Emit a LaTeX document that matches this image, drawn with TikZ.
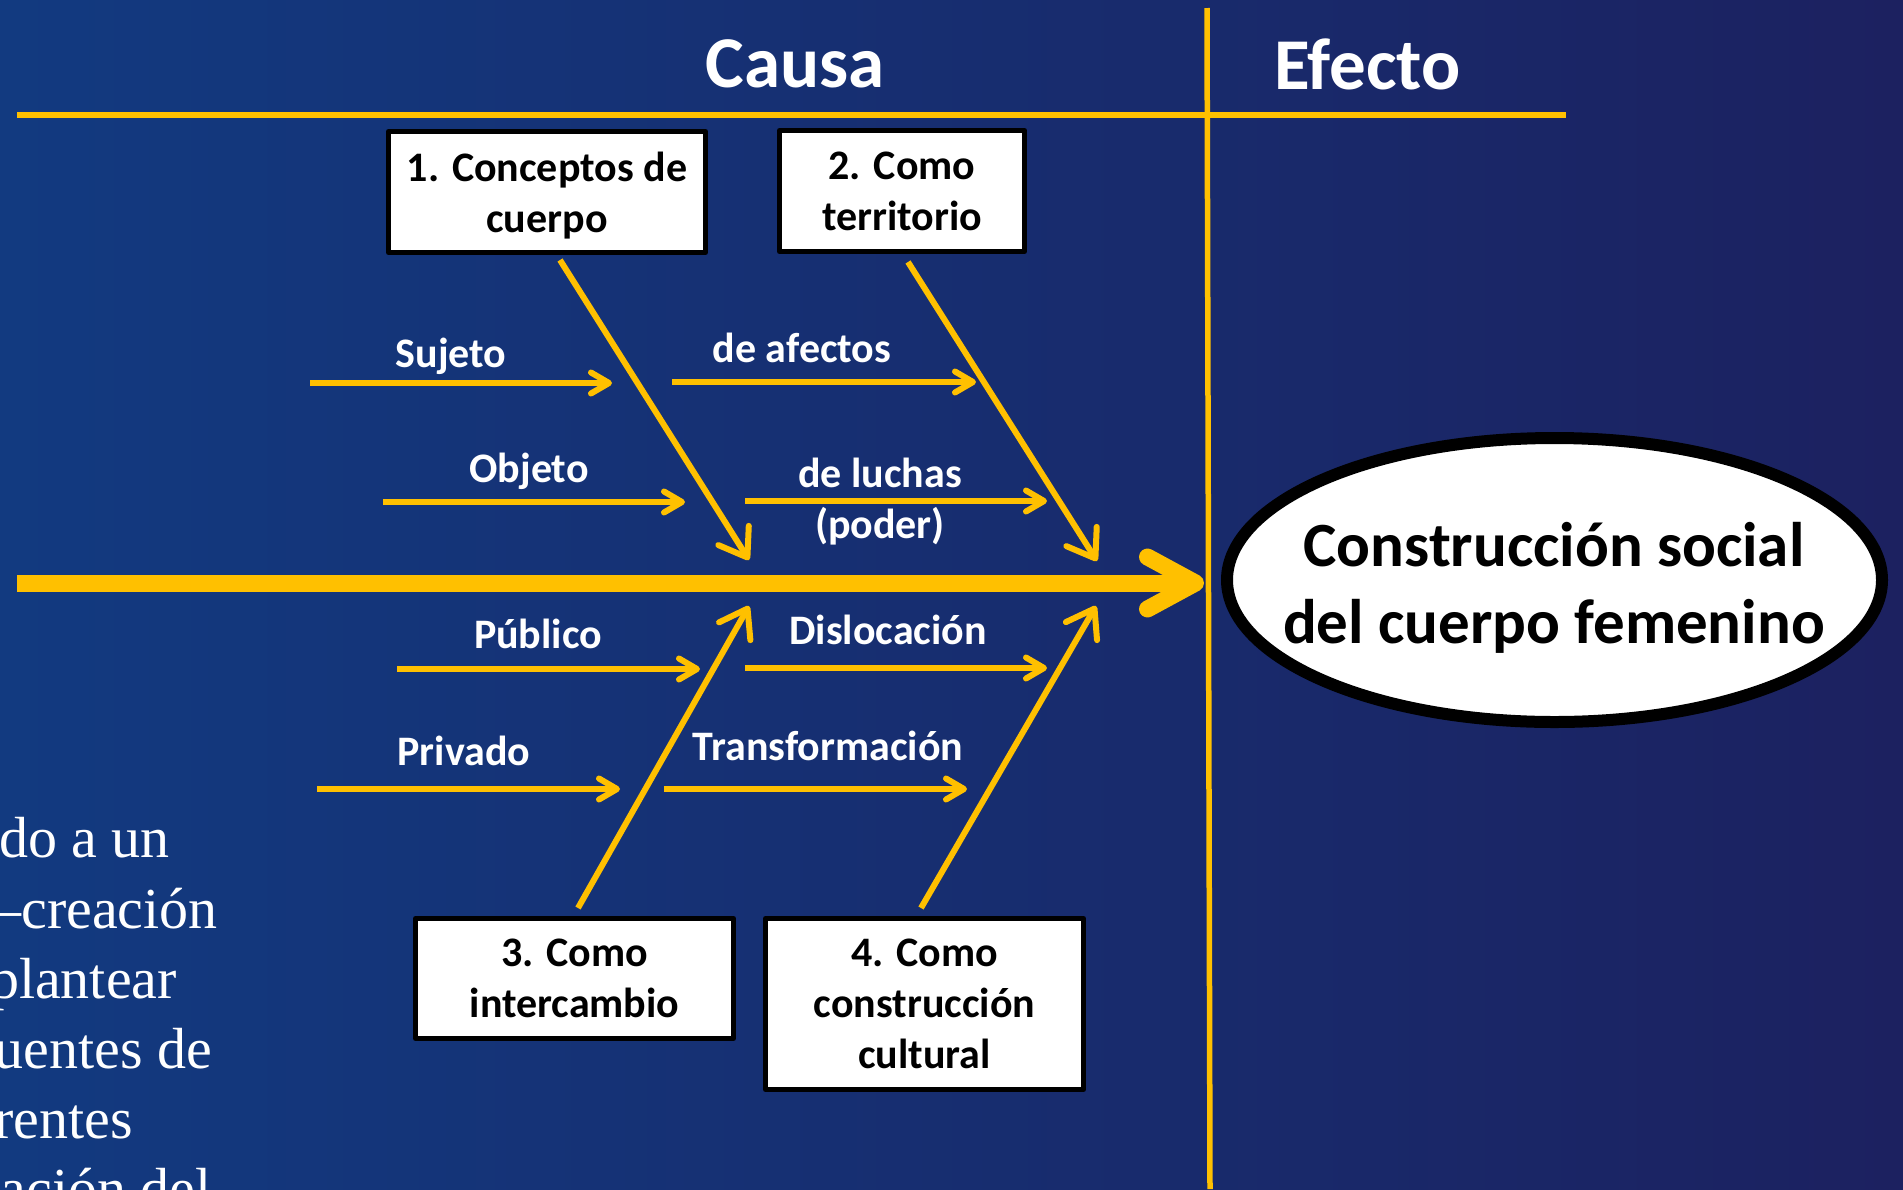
\documentclass[tikz,border=0pt]{standalone}
\usepackage{fontspec}
\setmainfont{Carlito}
\newfontfamily\slidefont{Liberation Serif}
\usetikzlibrary{arrows.meta,shapes.geometric}
\definecolor{fondoA}{RGB}{18,58,128}
\definecolor{fondoB}{RGB}{28,33,96}
\definecolor{oro}{RGB}{255,192,0}

\begin{document}
\begin{tikzpicture}[x=1pt, y=-1pt, line join=round,
	caja/.style={draw=black, line width=5pt, fill=white, inner sep=0pt, align=center, font=\fontsize{42}{51}\selectfont\bfseries},
	etiqueta/.style={text=white, inner sep=0pt, align=center, font=\fontsize{42}{51}\selectfont\bfseries},
	titulo/.style={text=white, inner sep=0pt, anchor=base, font=\fontsize{73}{80}\selectfont\bfseries},
	rama/.style={draw=oro, line width=6pt, -{Straight Barb[length=18pt, width=21pt, round]}},
	hueso/.style={draw=oro, line width=6pt, -{Straight Barb[length=26pt, width=36pt, round]}},
	guia/.style={draw=oro, line width=5.5pt},
	texto/.style={text=white, inner sep=0pt, anchor=base east, font=\fontsize{58}{70}\selectfont\slidefont}]

	% Fondo
	\clip (0,0) rectangle (1903,1189);
	\fill[left color=fondoA, right color=fondoB] (0,0) rectangle (1903,1189);

	% Texto de la diapositiva (cortado)
	\node[texto] (l1) at (170,857) {do a un};
	\node[texto] (l2) at (218,928) {—creación};
	\node[texto] (l3) at (177,998) {plantear};
	\node[texto] (l4) at (212,1068) {uentes de};
	\node[texto] (l5) at (133,1138) {rentes};
	\node[texto] (l6) at (212,1208) {ación del};

	% Cabecera
	\node[titulo] (causa) at (795,87) {Causa};
	\node[titulo] (efecto) at (1367.5,89) {Efecto};
	\draw[guia] (17,115) -- (1566,115);
	\draw[guia] (1207,8) -- (1210,1189);

	% Espina
	\coordinate (cola) at (17,583);
	\coordinate (punta) at (1204,583);
	\draw[draw=oro, line width=17pt, -{Straight Barb[length=48pt, width=52pt, round]}] (cola) -- (punta);

	% Cajas
	\node[caja, minimum width=317pt, minimum height=121pt] (c1) at (547,192) {\rule{0pt}{36pt}1. Conceptos de\\cuerpo};
	\node[caja, minimum width=245pt, minimum height=121pt] (c2) at (902,191) {2. Como\\territorio};
	\node[caja, minimum width=318pt, minimum height=120pt] (c3) at (574.5,978.5) {3. Como\\intercambio};
	\node[caja, minimum width=318pt, minimum height=171pt] (c4) at (924.5,1004) {4. Como\\construcción\\cultural};

	% Efecto
	\node[ellipse, draw=black, line width=12pt, fill=white, minimum width=655pt, minimum height=284pt, inner sep=0pt] (meta) at (1554.5,580) {};
	\node[inner sep=0pt, align=center, font=\fontsize{63}{77}\selectfont\bfseries] (metatexto) at (1554,588) {Construcción social\\del cuerpo femenino};

	% Huesos
	\coordinate (p1) at (749,560);
	\coordinate (p2) at (1097,561);
	\coordinate (p3) at (749,606);
	\coordinate (p4) at (1096,606);
	\draw[hueso] ([xshift=13pt, yshift=-5pt]c1.south) -- (p1);
	\draw[hueso] ([xshift=6pt, yshift=-8pt]c2.south) -- (p2);
	\draw[hueso] ([xshift=3.5pt, yshift=8pt]c3.north) -- (p3);
	\draw[hueso] ([xshift=-3.5pt, yshift=8pt]c4.north) -- (p4);

	% Ramas superiores
	\coordinate (a1) at (310,383);   \coordinate (b1) at (612,383);
	\coordinate (a2) at (383,502);   \coordinate (b2) at (685,502);
	\coordinate (a3) at (672,382);   \coordinate (b3) at (976,382);
	\coordinate (a4) at (745,501);   \coordinate (b4) at (1047,501);
	\draw[rama] (a1) -- (b1);
	\draw[rama] (a2) -- (b2);
	\draw[rama] (a3) -- (b3);
	\draw[rama] (a4) -- (b4);
	\node[etiqueta, anchor=base] (sujeto) at (451,367) {Sujeto};
	\node[etiqueta, anchor=base] (objeto) at (529,482) {Objeto};
	\node[etiqueta, anchor=base] (afectos) at (802,362) {de afectos};
	\node[etiqueta] (luchas) at (880,502) {de luchas\\(poder)};

	% Ramas inferiores
	\coordinate (a5) at (397,669);   \coordinate (b5) at (700,669);
	\coordinate (a6) at (745,668);   \coordinate (b6) at (1047,668);
	\coordinate (a7) at (317,789);   \coordinate (b7) at (620,789);
	\coordinate (a8) at (664,789);   \coordinate (b8) at (967,789);
	\draw[rama] (a5) -- (b5);
	\draw[rama] (a6) -- (b6);
	\draw[rama] (a7) -- (b7);
	\draw[rama] (a8) -- (b8);
	\node[etiqueta, anchor=base] (publico) at (538,648) {Público};
	\node[etiqueta, anchor=base] (dislocacion) at (888,644) {Dislocación};
	\node[etiqueta, anchor=base] (privado) at (464,765) {Privado};
	\node[etiqueta, anchor=base] (transformacion) at (828,760) {Transformación};
\end{tikzpicture}
\end{document}
